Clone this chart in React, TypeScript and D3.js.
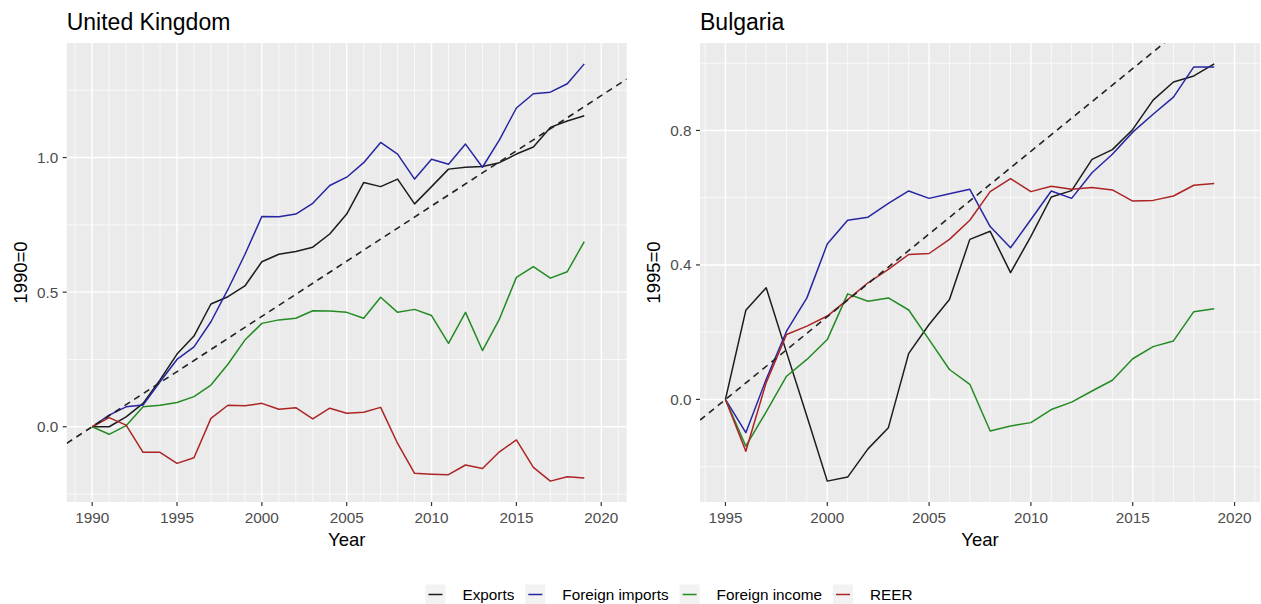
import React, { useMemo } from "react";
import * as d3 from "d3";

// Series order and colours (drawn in this order, REER on top)
const seriesNames = ["Exports", "Foreign imports", "Foreign income", "REER"];
const seriesColors = ["#1c1c1c", "#2626a2", "#238b23", "#ac2424"];

// United Kingdom, index with 1990 = 0
const ukYears = [
  1990, 1991, 1992, 1993, 1994, 1995, 1996, 1997, 1998, 1999,
  2000, 2001, 2002, 2003, 2004, 2005, 2006, 2007, 2008, 2009,
  2010, 2011, 2012, 2013, 2014, 2015, 2016, 2017, 2018, 2019,
];
const ukExports = [
  0, 0, 0.037, 0.087, 0.174, 0.27, 0.337, 0.456, 0.483, 0.523,
  0.613, 0.641, 0.651, 0.667, 0.716, 0.79, 0.907, 0.892, 0.92, 0.828,
  0.892, 0.957, 0.964, 0.967, 0.981, 1.013, 1.039, 1.112, 1.136, 1.155,
];
const ukImports = [
  0, 0.043, 0.074, 0.081, 0.167, 0.25, 0.297, 0.39, 0.51, 0.64,
  0.781, 0.78, 0.79, 0.83, 0.896, 0.927, 0.981, 1.056, 1.013, 0.92,
  0.994, 0.975, 1.05, 0.964, 1.066, 1.184, 1.237, 1.243, 1.274, 1.348,
];
const ukIncome = [
  0, -0.028, 0.004, 0.074, 0.08, 0.09, 0.112, 0.155, 0.232, 0.322,
  0.384, 0.397, 0.403, 0.431, 0.43, 0.425, 0.403, 0.481, 0.425, 0.436,
  0.413, 0.31, 0.425, 0.283, 0.4, 0.555, 0.595, 0.552, 0.576, 0.688,
];
const ukReer = [
  0, 0.034, 0.006, -0.095, -0.095, -0.136, -0.115, 0.031, 0.08, 0.078,
  0.087, 0.065, 0.071, 0.029, 0.069, 0.05, 0.054, 0.072, -0.062, -0.173,
  -0.176, -0.178, -0.142, -0.155, -0.093, -0.049, -0.151, -0.202, -0.186, -0.19,
];

// Bulgaria, index with 1995 = 0
const bgYears = [
  1995, 1996, 1997, 1998, 1999, 2000, 2001, 2002, 2003, 2004,
  2005, 2006, 2007, 2008, 2009, 2010, 2011, 2012, 2013, 2014,
  2015, 2016, 2017, 2018, 2019,
];
const bgExports = [
  0, 0.265, 0.332, 0.14, -0.05, -0.243, -0.231, -0.147, -0.084, 0.137,
  0.223, 0.297, 0.476, 0.5, 0.377, 0.485, 0.602, 0.621, 0.714, 0.743,
  0.803, 0.89, 0.944, 0.962, 0.998,
];
const bgImports = [
  0, -0.099, 0.06, 0.203, 0.302, 0.462, 0.533, 0.542, 0.583, 0.62,
  0.598, 0.612, 0.625, 0.514, 0.451, 0.535, 0.62, 0.598, 0.674, 0.729,
  0.795, 0.848, 0.899, 0.989, 0.989,
];
const bgIncome = [
  0, -0.139, -0.037, 0.069, 0.119, 0.178, 0.314, 0.292, 0.302, 0.266,
  0.178, 0.089, 0.045, -0.094, -0.079, -0.069, -0.03, -0.008, 0.025, 0.057,
  0.121, 0.157, 0.174, 0.261, 0.27,
];
const bgReer = [
  0, -0.154, 0.05, 0.193, 0.218, 0.248, 0.297, 0.347, 0.387, 0.431,
  0.434, 0.476, 0.533, 0.618, 0.657, 0.618, 0.634, 0.625, 0.63, 0.623,
  0.59, 0.592, 0.605, 0.637, 0.642,
];

// Axis breaks
const xMajorBreaks = [1990, 1995, 2000, 2005, 2010, 2015, 2020];
const ukYMajor = [0, 0.5, 1.0];
const ukYMinor = [-0.25, 0.25, 0.75, 1.25];
const bgYMajor = [0, 0.4, 0.8];
const bgYMinor = [-0.2, 0.2, 0.6, 1.0];

// Reference trend lines (slope per year, through zero at the base year)
const ukTrendSlope = 0.041;
const bgTrendSlope = 0.0492;

const FONT = "'Liberation Sans', Arial, Helvetica, sans-serif";
const W = 1261;
const H = 604;
const PANEL_TOP = 43;
const PANEL_BOTTOM = 502;

type PanelSpec = {
  id: string;
  title: string;
  yTitle: string;
  years: number[];
  series: number[][];
  xLimits: [number, number];
  yMajor: number[];
  yMinor: number[];
  slope: number;
  left: number;
  right: number;
};

const panels: PanelSpec[] = [
  {
    id: "uk",
    title: "United Kingdom",
    yTitle: "1990=0",
    years: ukYears,
    series: [ukExports, ukImports, ukIncome, ukReer],
    xLimits: [1990, 2020],
    yMajor: ukYMajor,
    yMinor: ukYMinor,
    slope: ukTrendSlope,
    left: 66.7,
    right: 626.7,
  },
  {
    id: "bg",
    title: "Bulgaria",
    yTitle: "1995=0",
    years: bgYears,
    series: [bgExports, bgImports, bgIncome, bgReer],
    xLimits: [1995, 2020],
    yMajor: bgYMajor,
    yMinor: bgYMinor,
    slope: bgTrendSlope,
    left: 700,
    right: 1260,
  },
];

function expand([a, b]: [number, number], f = 0.05): [number, number] {
  const d = (b - a) * f;
  return [a - d, b + d];
}

function Panel({ p }: { p: PanelSpec }) {
  const xDomain = expand(p.xLimits);
  const all = p.series.flat();
  const yDomain = expand([d3.min(all)!, d3.max(all)!]);
  const x = d3.scaleLinear().domain(xDomain).range([p.left, p.right]);
  const y = d3.scaleLinear().domain(yDomain).range([PANEL_BOTTOM, PANEL_TOP]);

  const minorX = d3
    .range(Math.ceil(xDomain[0]), Math.floor(xDomain[1]) + 1)
    .filter((v) => !xMajorBreaks.includes(v));
  const majorX = xMajorBreaks.filter((v) => v >= xDomain[0] && v <= xDomain[1]);
  const minorY = p.yMinor.filter((v) => v >= yDomain[0] && v <= yDomain[1]);

  const line = d3
    .line<number>()
    .x((_, i) => x(p.years[i]))
    .y((d) => y(d));

  const base = p.years[0];
  const trend = d3
    .line<number>()
    .x((d) => x(d))
    .y((d) => y((d - base) * p.slope));

  const fmt = d3.format(".1f");
  const clipId = `clip-${p.id}`;
  const midY = (PANEL_TOP + PANEL_BOTTOM) / 2;

  return (
    <g>
      <defs>
        <clipPath id={clipId}>
          <rect x={p.left} y={PANEL_TOP} width={p.right - p.left} height={PANEL_BOTTOM - PANEL_TOP} />
        </clipPath>
      </defs>
      <text x={p.left} y={29.5} fontSize={23} fill="#000" fontFamily={FONT}>
        {p.title}
      </text>
      <rect
        x={p.left}
        y={PANEL_TOP}
        width={p.right - p.left}
        height={PANEL_BOTTOM - PANEL_TOP}
        fill="#ebebeb"
      />
      {/* minor grid */}
      {minorX.map((v) => (
        <line key={`mx${v}`} x1={x(v)} x2={x(v)} y1={PANEL_TOP} y2={PANEL_BOTTOM} stroke="#fff" strokeWidth={0.7} />
      ))}
      {minorY.map((v) => (
        <line key={`my${v}`} x1={p.left} x2={p.right} y1={y(v)} y2={y(v)} stroke="#fff" strokeWidth={0.7} />
      ))}
      {/* major grid */}
      {majorX.map((v) => (
        <line key={`Mx${v}`} x1={x(v)} x2={x(v)} y1={PANEL_TOP} y2={PANEL_BOTTOM} stroke="#fff" strokeWidth={1.4} />
      ))}
      {p.yMajor.map((v) => (
        <line key={`My${v}`} x1={p.left} x2={p.right} y1={y(v)} y2={y(v)} stroke="#fff" strokeWidth={1.4} />
      ))}
      <g clipPath={`url(#${clipId})`}>
        {p.series.map((s, i) => (
          <path
            key={seriesNames[i]}
            d={line(s) ?? ""}
            fill="none"
            stroke={seriesColors[i]}
            strokeWidth={1.5}
            strokeLinejoin="round"
          />
        ))}
        <path
          d={trend(xDomain) ?? ""}
          fill="none"
          stroke="#222"
          strokeWidth={1.6}
          strokeDasharray="6.5 5"
        />
      </g>
      {/* x axis */}
      {majorX.map((v) => (
        <g key={`xt${v}`}>
          <line x1={x(v)} x2={x(v)} y1={PANEL_BOTTOM} y2={PANEL_BOTTOM + 4} stroke="#333" strokeWidth={1.2} />
          <text
            x={x(v)}
            y={PANEL_BOTTOM + 21}
            textAnchor="middle"
            fontSize={15.3}
            fill="#4d4d4d"
            fontFamily={FONT}
          >
            {v}
          </text>
        </g>
      ))}
      {/* y axis */}
      {p.yMajor.map((v) => (
        <g key={`yt${v}`}>
          <line x1={p.left - 4} x2={p.left} y1={y(v)} y2={y(v)} stroke="#333" strokeWidth={1.2} />
          <text
            x={p.left - 8.5}
            y={y(v)}
            dy="0.36em"
            textAnchor="end"
            fontSize={15.3}
            fill="#4d4d4d"
            fontFamily={FONT}
          >
            {fmt(v)}
          </text>
        </g>
      ))}
      <text
        x={(p.left + p.right) / 2}
        y={546}
        textAnchor="middle"
        fontSize={18.5}
        fill="#000"
        fontFamily={FONT}
      >
        Year
      </text>
      <text
        transform={`translate(${p.left - 40},${midY}) rotate(-90)`}
        textAnchor="middle"
        fontSize={18.5}
        fill="#000"
        fontFamily={FONT}
      >
        {p.yTitle}
      </text>
    </g>
  );
}

function measure(text: string, size: number): number {
  if (typeof document === "undefined") return text.length * size * 0.5;
  const c = document.createElement("canvas").getContext("2d");
  if (!c) return text.length * size * 0.5;
  c.font = `${size}px 'Liberation Sans', Arial, sans-serif`;
  return c.measureText(text).width;
}

function Legend() {
  const size = 15.3;
  const keyW = 20;
  const keyH = 20;
  const textGap = 17;
  const itemGap = 11;
  const items = useMemo(() => {
    let cx = 0;
    return seriesNames.map((name, i) => {
      const w = measure(name, size);
      const item = { name, color: seriesColors[i], x: cx, w };
      cx += keyW + textGap + w + itemGap;
      return item;
    });
  }, []);
  const total =
    items[items.length - 1].x + keyW + textGap + items[items.length - 1].w;
  const startX = 669 - total / 2;
  const cy = 594.5;
  return (
    <g transform={`translate(${startX},0)`}>
      {items.map((it) => (
        <g key={it.name} transform={`translate(${it.x},0)`}>
          <rect x={0} y={cy - keyH / 2} width={keyW} height={keyH} fill="#f2f2f2" />
          <line x1={3} x2={keyW - 3} y1={cy} y2={cy} stroke={it.color} strokeWidth={1.5} />
          <text
            x={keyW + textGap}
            y={cy}
            dy="0.36em"
            fontSize={size}
            fill="#000"
            fontFamily={FONT}
          >
            {it.name}
          </text>
        </g>
      ))}
    </g>
  );
}

export default function App() {
  return (
    <svg
      width={W}
      height={H}
      viewBox={`0 0 ${W} ${H}`}
      style={{ position: "absolute", left: 0, top: 0, background: "#fff" }}
    >
      <rect width={W} height={H} fill="#fff" />
      {panels.map((p) => (
        <Panel key={p.id} p={p} />
      ))}
      <Legend />
    </svg>
  );
}
